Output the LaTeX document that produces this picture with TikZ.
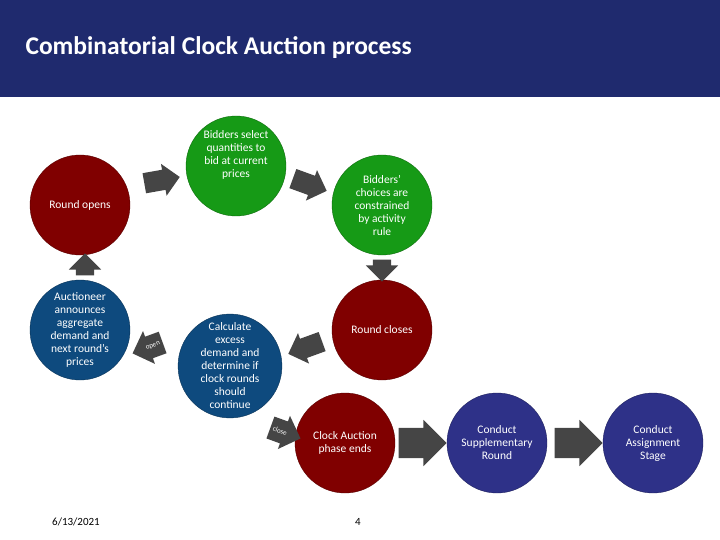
\documentclass[tikz,border=0pt]{standalone}
\usepackage{fontspec}
\setmainfont{Carlito}
\usetikzlibrary{shapes.arrows}
\definecolor{dred}{HTML}{800000}
\definecolor{dgreen}{HTML}{169A16}
\definecolor{dblue}{HTML}{0E4A7E}
\definecolor{navy}{HTML}{2E3188}
\definecolor{bar}{HTML}{1F2A6E}
\definecolor{agray}{HTML}{454545}
\tikzset{
 circ/.style={circle,minimum size=100pt,inner sep=0pt,text=white,align=center,font=\fontsize{11.5}{13}\selectfont,draw=#1!70!black,fill=#1},
 barrow/.style={single arrow,fill=agray,minimum height=36pt,minimum width=0pt,inner ysep=10pt,inner xsep=1pt,single arrow head extend=6pt,text=white,font=\fontsize{7}{8}\selectfont},
 bigarrow/.style={single arrow,fill=agray,minimum height=48pt,minimum width=0pt,inner ysep=15pt,inner xsep=1pt,single arrow head extend=8pt}
}
\begin{document}
\begin{tikzpicture}[x=1pt,y=-1pt]
\useasboundingbox (0,0) rectangle (720,540);
\fill[bar] (0,0) rectangle (720,97);
\node[anchor=west,text=white,font=\bfseries\fontsize{25.5}{30}\selectfont] (title) at (22,48) {Combinatorial Clock Auction process};
\node[circ=dred] (opens) at (80,205) {Round opens};
\node[circ=dgreen] (select) at (236,166) {Bidders select\\quantities to\\bid at current\\prices\\[10pt]};
\node[circ=dgreen] (choices) at (382,205) {Bidders’\\choices are\\constrained\\by activity\\rule};
\node[circ=dred] (closes) at (382,330) {Round closes};
\node[circ=dblue] (calc) at (230,366) {Calculate\\excess\\demand and\\determine if\\clock rounds\\should\\continue};
\node[circ=dblue] (auct) at (80,330) {Auctioneer\\announces\\aggregate\\demand and\\next round’s\\prices};
\node[circ=dred] (ends) at (345,443) {Clock Auction\\phase ends};
\node[circ=navy] (supp) at (497,443) {Conduct\\Supplementary\\Round};
\node[circ=navy] (assign) at (653,443) {Conduct\\Assignment\\Stage};
\node[barrow,rotate=10] (a1) at (157,181) {};
\node[barrow,rotate=-20] (a2) at (305,183) {};
\node[barrow,rotate=-90,minimum height=22pt,inner ysep=9pt,single arrow head extend=7pt] (a3) at (382,266) {};
\node[barrow,rotate=200] (a4) at (310,346) {};
\node[barrow,rotate=200,minimum height=32pt,inner ysep=9pt] (a5) at (153,346) {\rotatebox{180}{open}};
\node[barrow,rotate=90,minimum height=22pt,inner ysep=9pt,single arrow head extend=7pt] (a6) at (85,269) {};
\node[barrow,rotate=-20,minimum height=32pt,inner ysep=9pt] (a7) at (280,431) {close};
\node[bigarrow] (a8) at (415,443) {};
\node[bigarrow] (a9) at (571,443) {};
\node[font=\fontsize{11}{13}\selectfont] (date) at (76,522) {6/13/2021};
\node[font=\fontsize{11}{13}\selectfont] (page) at (358,522) {4};
\end{tikzpicture}
\end{document}
